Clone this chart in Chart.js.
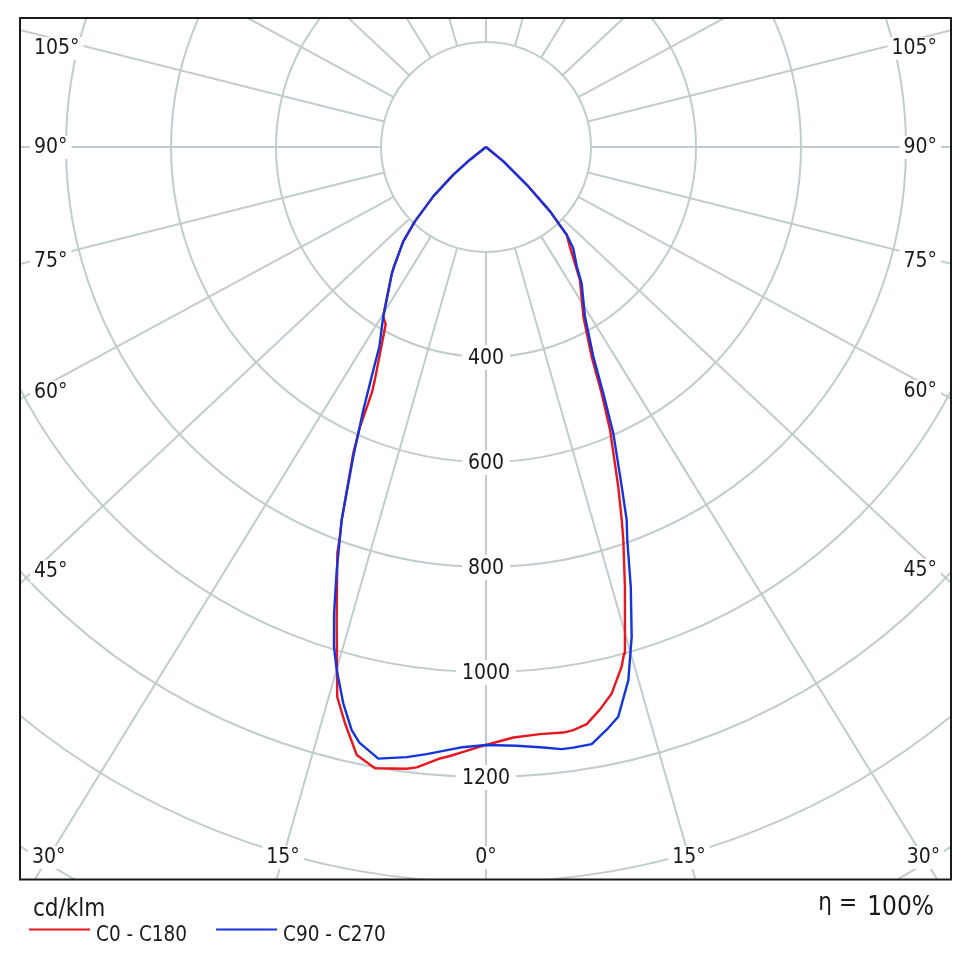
<!DOCTYPE html>
<html>
<head>
<meta charset="utf-8">
<script src="https://cdn.jsdelivr.net/npm/chart.js@4/dist/chart.umd.min.js"></script>
<style>
html, body { margin: 0; padding: 0; background: #ffffff; }
#wrap { position: relative; width: 976px; height: 961px; }
</style>
</head>
<body>
<div id="wrap"><canvas id="c" width="976" height="961"></canvas></div>
<script>
// ---- chart data ----
const ringValues = [200, 400, 600, 800, 1000, 1200, 1400, 1600];
const ringLabels = [400, 600, 800, 1000, 1200];
const angleLines = [0, 15, 30, 45, 60, 75, 90, 105, 120, 135, 150, 165, 180];
const angleLabels = [0, 15, 30, 45, 60, 75, 90, 105];
const seriesNames = ['C0 - C180', 'C90 - C270'];
const unitLabel = 'cd/klm';
const etaSymbol = '\u03B7 =';
const etaValue = '100%';

// C0 half (right side of red curve): gamma (deg from nadir) and cd/klm
const c0Angles = [0, 2.65, 5.25, 7.52, 8.52, 9.9, 11.46, 12.96, 14.63, 15.25, 17.54, 19.26, 20.0, 21.28, 23.66, 25.16, 26.75, 29.83, 35.25, 40.1, 42.6, 44.87, 47.2, 50.4, 55];
const c0Values = [1139, 1126, 1123, 1125, 1123, 1116, 1093, 1068, 1023, 1000, 878, 793, 756, 694, 589, 518, 447, 373, 310, 248, 227, 173, 106, 43, 0];
// C180 half (left side of red curve)
const c180Angles = [0, 2.46, 3.38, 4.3, 6.37, 7.27, 10.13, 12.0, 13.75, 15.14, 17.52, 20.1, 20.54, 21.15, 23.43, 24.25, 24.9, 25.5, 29.5, 31.2, 36.7, 37.6, 41.25, 43.7, 46.9, 49.7, 51.6, 55];
const c180Values = [1139, 1155, 1162, 1168, 1189, 1194, 1202, 1184, 1130, 1085, 945, 824, 793, 762, 636, 584, 517, 492, 388, 378, 300, 287, 239, 196, 137, 82, 39, 0];
// C90 half (right side of blue curve)
const c90Angles = [0, 2.94, 5.45, 7.17, 8.27, 10.04, 11.88, 13.07, 14.95, 16.57, 18.22, 19.78, 20.67, 21.78, 23.97, 25.46, 27.1, 30.26, 35.07, 37.24, 40.8, 42.6, 44.87, 47.2, 50.4, 55];
const c90Values = [1139, 1142, 1149, 1156, 1156, 1155, 1131, 1114, 1051, 973, 882, 795, 759, 697, 597, 520, 449, 374, 317, 286, 254, 227, 173, 106, 43, 0];
// C270 half (left side of blue curve)
const c270Angles = [0, 2.48, 5.58, 7.4, 9.99, 12.0, 12.97, 14.39, 15.93, 16.92, 18.05, 19.44, 20.54, 21.15, 23.2, 25.0, 26.8, 28.1, 31.2, 36.7, 37.6, 41.25, 43.7, 46.9, 49.7, 51.6, 55];
const c270Values = [1139, 1145, 1162, 1172, 1183, 1160, 1140, 1094, 1036, 995, 934, 854, 793, 762, 642, 553, 476, 431, 378, 300, 287, 239, 196, 137, 82, 39, 0];

// ---- styling ----
const FONT = '"DejaVu Sans Condensed", "DejaVu Sans", sans-serif';
const GRID_COLOR = '#c3cccc';
const TEXT_COLOR = '#1a1a1a';
const RED = '#e8161e';
const BLUE = '#1534dc';
const ANGLE_ASPECT = 1.067;

function polarToXY(leftA, leftV, rightA, rightV) {
  const pts = [];
  for (let i = leftA.length - 1; i >= 0; i--) {
    const g = leftA[i] * Math.PI / 180;
    pts.push({ x: -leftV[i] * Math.sin(g), y: -leftV[i] * Math.cos(g) });
  }
  for (let i = 0; i < rightA.length; i++) {
    const g = rightA[i] * Math.PI / 180;
    pts.push({ x: rightV[i] * Math.sin(g), y: -rightV[i] * Math.cos(g) });
  }
  return pts;
}

const polarGrid = {
  id: 'polarGrid',
  beforeDatasetsDraw(chart) {
    const { ctx, chartArea: ca, scales: { x, y } } = chart;
    const cx = x.getPixelForValue(0), cy = y.getPixelForValue(0);
    const rad = v => cy - y.getPixelForValue(v);
    ctx.save();
    ctx.beginPath();
    ctx.rect(ca.left, ca.top, ca.right - ca.left, ca.bottom - ca.top);
    ctx.clip();
    ctx.strokeStyle = GRID_COLOR;
    ctx.lineWidth = 2;
    ringValues.forEach(v => {
      ctx.beginPath();
      ctx.arc(cx, cy, rad(v), 0, Math.PI * 2);
      ctx.stroke();
    });
    const r0 = rad(ringValues[0]);
    const rays = [];
    angleLines.forEach(a => {
      [-1, 1].forEach(s => {
        if ((a === 0 || a === 180) && s === -1) return;
        const t = a * Math.PI / 180;
        let dx = s * Math.sin(t) * ANGLE_ASPECT, dy = Math.cos(t);
        const n = Math.hypot(dx, dy);
        dx /= n; dy /= n;
        rays.push({ a, s, dx, dy });
        ctx.beginPath();
        ctx.moveTo(cx + dx * r0, cy + dy * r0);
        ctx.lineTo(cx + dx * 3000, cy + dy * 3000);
        ctx.stroke();
      });
    });

    ctx.font = '21px ' + FONT;
    ctx.textBaseline = 'middle';
    ctx.fillStyle = TEXT_COLOR;
    // ring value labels on the nadir line
    ringLabels.forEach(v => {
      const py = cy + rad(v);
      const txt = String(v);
      const w = ctx.measureText(txt).width;
      ctx.fillStyle = '#ffffff';
      ctx.fillRect(cx - w / 2 - 6, py - 12, w + 12, 25);
      ctx.fillStyle = TEXT_COLOR;
      ctx.textAlign = 'center';
      ctx.fillText(txt, cx, py + 2);
    });
    // angle labels
    const inL = ca.left + 14, inR = ca.right - 14, inB = ca.bottom - 23, inT = ca.top + 30;
    angleLabels.forEach(a => {
      [-1, 1].forEach(s => {
        if (a === 0 && s === -1) return;
        const ray = rays.find(r => r.a === a && r.s === s);
        const txt = a + '\u00B0';
        const w = ctx.measureText(txt).width;
        let px, py, align;
        const tBottom = ray.dy > 0 ? (inB - cy) / ray.dy : Infinity;
        const xAtB = cx + ray.dx * tBottom;
        if (ray.dy > 0 && xAtB >= inL && xAtB <= inR) {
          px = xAtB; py = inB; align = 'center';
        } else {
          const edge = s < 0 ? inL : inR;
          const tt = (edge - cx) / ray.dx;
          py = Math.max(inT, cy + ray.dy * tt);
          px = edge; align = s < 0 ? 'left' : 'right';
        }
        let bx = align === 'center' ? px - w / 2 : (align === 'left' ? px : px - w);
        ctx.fillStyle = '#ffffff';
        ctx.fillRect(bx - 4, py - 11, w + 8, 23);
        ctx.fillStyle = TEXT_COLOR;
        ctx.textAlign = align;
        ctx.fillText(txt, px, py + 1);
      });
    });
    ctx.restore();
  },
  afterDraw(chart) {
    const { ctx, chartArea: ca } = chart;
    ctx.save();
    ctx.strokeStyle = TEXT_COLOR;
    ctx.lineWidth = 2;
    ctx.strokeRect(ca.left, ca.top, ca.right - ca.left, ca.bottom - 0.5 - ca.top);
    ctx.fillStyle = TEXT_COLOR;
    ctx.textBaseline = 'alphabetic';
    ctx.textAlign = 'left';
    ctx.font = '24px ' + FONT;
    ctx.fillText(unitLabel, ca.left + 13, ca.bottom + 36);
    // legend
    ctx.font = '20.5px ' + FONT;
    let lx = ca.left + 9;
    const ly = ca.bottom + 49.5;
    chart.data.datasets.forEach(ds => {
      ctx.strokeStyle = ds.borderColor;
      ctx.lineWidth = 2;
      ctx.beginPath();
      ctx.moveTo(lx, ly);
      ctx.lineTo(lx + 61, ly);
      ctx.stroke();
      ctx.fillStyle = TEXT_COLOR;
      ctx.fillText(ds.label, lx + 67, ca.bottom + 61);
      lx += 67 + ctx.measureText(ds.label).width + 29;
    });
    // efficiency
    ctx.textAlign = 'right';
    ctx.font = '24px ' + FONT;
    ctx.fillText(etaSymbol, ca.right - 94, ca.bottom + 30);
    ctx.font = '26px ' + FONT;
    ctx.fillText(etaValue, ca.right - 17, ca.bottom + 35);
    ctx.restore();
  }
};

const K = 0.525; // px per cd/klm
new Chart(document.getElementById('c'), {
  type: 'scatter',
  data: {
    datasets: [
      { label: seriesNames[0], data: polarToXY(c180Angles, c180Values, c0Angles, c0Values), order: 1,
        showLine: true, borderColor: RED, backgroundColor: RED, borderWidth: 2.4, pointRadius: 0, tension: 0, fill: false, borderJoinStyle: 'round' },
      { label: seriesNames[1], data: polarToXY(c270Angles, c270Values, c90Angles, c90Values), order: 0,
        showLine: true, borderColor: BLUE, backgroundColor: BLUE, borderWidth: 2.4, pointRadius: 0, tension: 0, fill: false, borderJoinStyle: 'round' }
    ]
  },
  options: {
    responsive: false,
    animation: false,
    events: [],
    layout: { padding: { left: 20, top: 18, right: 25, bottom: 81 } },
    scales: {
      x: { type: 'linear', display: false, min: -466 / K, max: 465 / K },
      y: { type: 'linear', display: false, min: -733 / K, max: 129 / K }
    },
    plugins: { legend: { display: false }, tooltip: { enabled: false } }
  },
  plugins: [polarGrid]
});
</script>
</body>
</html>
